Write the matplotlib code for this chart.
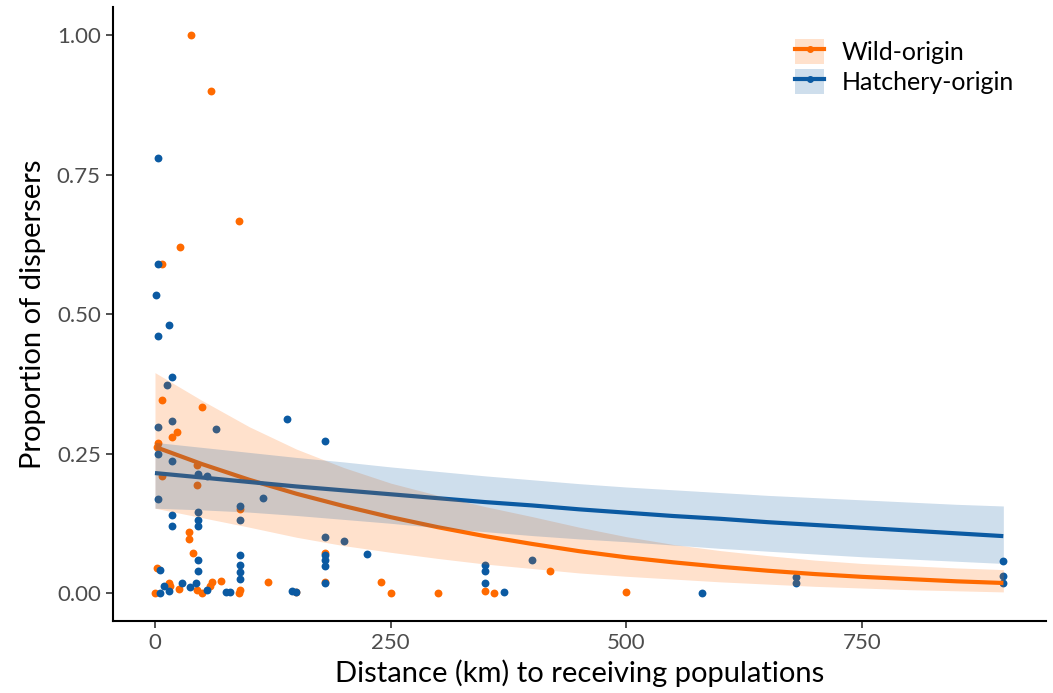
import matplotlib
matplotlib.use("Agg")
import matplotlib.pyplot as plt
from matplotlib.patches import Patch
from matplotlib.lines import Line2D

# observed proportions, wild-origin fish
wild_km = [38, 59, 89, 27, 7, 7, 50, 18, 23, 2, 3, 7, 45, 45, 90, 36, 36, 40, 2, 0,
           15, 16, 25, 45, 50, 58, 60, 70, 89, 90, 120, 150, 180, 180, 240, 250, 300,
           350, 360, 419, 500]
wild_prop = [1.00, 0.90, 0.667, 0.62, 0.589, 0.346, 0.334, 0.280, 0.288, 0.262, 0.269,
             0.210, 0.194, 0.230, 0.150, 0.109, 0.096, 0.071, 0.044, 0.0,
             0.018, 0.013, 0.008, 0.006, 0.0, 0.012, 0.019, 0.021, 0.0, 0.005, 0.020,
             0.002, 0.071, 0.019, 0.020, 0.0, 0.0, 0.004, 0.0, 0.039, 0.001]

# observed proportions, hatchery-origin fish
hatch_km = [3, 3, 1, 15, 3, 18, 13, 140, 18, 3, 65, 180, 3, 18, 46, 55, 3, 115, 90, 90,
            46, 46, 46, 18, 18, 46, 46, 5, 180, 90, 90, 90, 90, 5, 10, 15, 29, 37, 43,
            55, 75, 80, 145, 150, 180, 180, 180, 180, 200, 225, 350, 350, 350, 370, 400,
            580, 680, 680, 900, 900, 900]
hatch_prop = [0.78, 0.59, 0.534, 0.48, 0.46, 0.387, 0.372, 0.311, 0.309, 0.298, 0.294,
              0.273, 0.249, 0.236, 0.213, 0.210, 0.168, 0.170, 0.156, 0.131,
              0.146, 0.131, 0.120, 0.140, 0.120, 0.060, 0.040, 0.041, 0.100, 0.068,
              0.050, 0.038, 0.025, 0.0, 0.012, 0.004, 0.018, 0.010, 0.018,
              0.005, 0.002, 0.002, 0.004, 0.001, 0.069, 0.060, 0.049, 0.018, 0.093, 0.070,
              0.050, 0.039, 0.018, 0.001, 0.060, 0.0, 0.029, 0.018, 0.057, 0.030, 0.018]

# fitted curves and confidence bands (every 50 km)
fit_km = [0, 50, 100, 150, 200, 250, 300, 350, 400, 450, 500, 550, 600, 650, 700,
          750, 800, 850, 900]
wild_fit = [0.262, 0.231, 0.203, 0.178, 0.156, 0.136, 0.118, 0.102, 0.088, 0.075,
            0.064, 0.055, 0.047, 0.040, 0.034, 0.029, 0.025, 0.021, 0.018]
wild_lo = [0.152, 0.135, 0.118, 0.100, 0.085, 0.073, 0.062, 0.052, 0.044, 0.036,
           0.030, 0.025, 0.020, 0.016, 0.012, 0.009, 0.006, 0.004, 0.002]
wild_hi = [0.395, 0.345, 0.298, 0.258, 0.225, 0.197, 0.175, 0.155, 0.137, 0.118,
           0.101, 0.087, 0.076, 0.067, 0.059, 0.053, 0.049, 0.045, 0.042]
hatch_fit = [0.215, 0.207, 0.199, 0.191, 0.184, 0.177, 0.170, 0.163, 0.157, 0.150,
             0.144, 0.138, 0.133, 0.127, 0.122, 0.117, 0.112, 0.107, 0.102]
hatch_lo = [0.152, 0.149, 0.145, 0.139, 0.132, 0.125, 0.117, 0.110, 0.103, 0.097,
            0.092, 0.086, 0.080, 0.075, 0.070, 0.065, 0.061, 0.057, 0.053]
hatch_hi = [0.270, 0.261, 0.252, 0.243, 0.235, 0.226, 0.218, 0.210, 0.203, 0.196,
            0.190, 0.185, 0.180, 0.175, 0.171, 0.167, 0.163, 0.159, 0.156]

orange = "#FF6A00"
blue = "#0B5AA2"

plt.rcParams["font.family"] = ["Lato", "DejaVu Sans"]

fig = plt.figure(figsize=(10.53, 6.93), dpi=100)
ax = fig.add_axes([0.1069, 0.1040, 0.8862, 0.8857])

ax.scatter(wild_km, wild_prop, s=32, color=orange, linewidths=0, zorder=1)
ax.scatter(hatch_km, hatch_prop, s=32, color=blue, linewidths=0, zorder=1)

ax.plot(fit_km, wild_fit, color=orange, lw=3, zorder=2, solid_capstyle="butt")
ax.plot(fit_km, hatch_fit, color=blue, lw=3, zorder=2, solid_capstyle="butt")
ax.fill_between(fit_km, wild_lo, wild_hi, color=orange, alpha=0.2, lw=0, zorder=3)
ax.fill_between(fit_km, hatch_lo, hatch_hi, color=blue, alpha=0.2, lw=0, zorder=3)

ax.set_xlim(-45, 945)
ax.set_ylim(-0.05, 1.05)
ax.set_xticks([0, 250, 500, 750])
ax.set_yticks([0, 0.25, 0.5, 0.75, 1.0])
ax.set_yticklabels(["0.00", "0.25", "0.50", "0.75", "1.00"])
ax.tick_params(labelsize=16, labelcolor="#4D4D4D", color="#333333", length=5, width=1.2)
for side in ["top", "right"]:
    ax.spines[side].set_visible(False)
for side in ["left", "bottom"]:
    ax.spines[side].set_linewidth(1.5)

ax.set_xlabel("Distance (km) to receiving populations", fontsize=21, labelpad=5)
ax.set_ylabel("Proportion of dispersers", fontsize=21, labelpad=8)

handles = [
    (Patch(facecolor=orange, alpha=0.2, lw=0),
     Line2D([], [], color=orange, lw=3, marker="o", ms=4)),
    (Patch(facecolor=blue, alpha=0.2, lw=0),
     Line2D([], [], color=blue, lw=3, marker="o", ms=4)),
]
ax.legend(handles, ["Wild-origin", "Hatchery-origin"], loc="upper right",
          frameon=False, fontsize=18, handlelength=1.15, handleheight=1.15,
          handletextpad=0.7, labelspacing=0.2, bbox_to_anchor=(0.99, 0.985))

fig.savefig("out.png", dpi=100)
